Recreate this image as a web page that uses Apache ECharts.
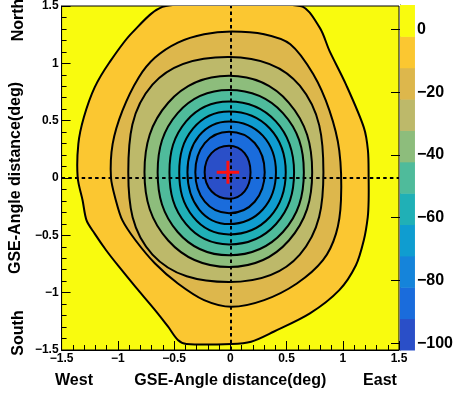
<!DOCTYPE html>
<html><head><meta charset="utf-8">
<script src="https://cdn.jsdelivr.net/npm/echarts@6/dist/echarts.min.js"></script>
<style>html,body{margin:0;padding:0;background:#fff}#c{width:456px;height:401px}</style>
</head><body><div id="c"></div>
<script>
// z range of the colour scale and contour levels
const zMin = -102.2, zMax = 7.8;
const contourLevels = [-2.2, -12.2, -22.2, -32.2, -42.2, -52.2, -62.2, -72.2, -82.2, -92.2];
// colours from lowest band to highest band
const bandColors = ['#2a4fc8','#1a6cdc','#1584da','#0f9dd0','#20b0b6','#4fbb9b','#8dbd7c','#bdb96a','#ddb74c','#fbc731','#f9fb0e'];
const colorbarLabels = [0, -20, -40, -60, -80, -100];
// contour outlines (deg, deg)
const contour1 = [[-0.573,1.5],[-0.872,1.268],[-1.075,1.007],[-1.206,0.790],[-1.302,0.529],[-1.351,0.297],[-1.357,0.004],[-1.313,-0.196],[-1.278,-0.370],[-1.206,-0.485],[-1.104,-0.630],[-0.988,-0.776],[-0.843,-0.950],[-0.669,-1.152],[-0.553,-1.297],[-0.466,-1.413],[-0.390,-1.448],[0.011,-1.448],[0.185,-1.428],[0.385,-1.341],[0.708,-1.181],[0.969,-0.978],[1.117,-0.761],[1.187,-0.543],[1.222,-0.343],[1.230,-0.196],[1.230,0.004],[1.224,0.239],[1.187,0.442],[1.027,0.819],[0.882,1.109],[0.795,1.311],[0.621,1.5]];
const contour2 = [[0.011,1.277],[-0.233,1.254],[-0.466,1.181],[-0.669,1.050],[-0.814,0.877],[-0.959,0.587],[-1.046,0.297],[-1.061,0.004],[-1.017,-0.196],[-0.959,-0.370],[-0.843,-0.543],[-0.669,-0.746],[-0.466,-0.920],[-0.233,-1.065],[0.011,-1.123],[0.301,-1.065],[0.592,-0.920],[0.824,-0.717],[0.940,-0.485],[0.984,-0.196],[0.969,0.239],[0.882,0.587],[0.737,0.906],[0.534,1.167],[0.301,1.254]];
const contour3 = [[-0.011,1.056],[0.618,0.805],[0.828,0.05],[0.618,-0.668],[-0.011,-0.907],[-0.692,-0.668],[-0.907,0.05],[-0.692,0.815]];
const contour4 = [[-0.011,0.891],[0.521,0.656],[0.728,0.05],[0.521,-0.545],[-0.011,-0.776],[-0.552,-0.545],[-0.763,0.05],[-0.552,0.656]];
const contour5 = [[-0.011,0.767],[0.468,0.566],[0.654,0.05],[0.468,-0.471],[-0.011,-0.674],[-0.468,-0.471],[-0.646,0.05],[-0.468,0.566]];
const contour6 = [[-0.011,0.667],[0.405,0.494],[0.567,0.05],[0.405,-0.403],[-0.011,-0.579],[-0.393,-0.403],[-0.541,0.05],[-0.393,0.494]];
const contour7 = [[-0.011,0.580],[0.352,0.432],[0.493,0.05],[0.352,-0.340],[-0.011,-0.492],[-0.330,-0.340],[-0.454,0.05],[-0.330,0.432]];
const contour8 = [[-0.011,0.493],[0.289,0.369],[0.406,0.05],[0.289,-0.275],[-0.011,-0.402],[-0.277,-0.275],[-0.381,0.05],[-0.277,0.369]];
const contour9 = [[-0.011,0.404],[0.217,0.305],[0.306,0.05],[0.217,-0.207],[-0.011,-0.307],[-0.227,-0.207],[-0.311,0.05],[-0.227,0.305]];
const contour10 = [[-0.011,0.282],[0.127,0.217],[0.180,0.05],[0.127,-0.116],[-0.011,-0.181],[-0.167,-0.116],[-0.228,0.05],[-0.167,0.217]];
const contours = [contour1, contour2, contour3, contour4, contour5, contour6, contour7, contour8, contour9, contour10];
// source position (red cross)
const sourcePos = [[-0.021, 0.05]];
const crossHalf = 0.1;

const FONT = '"Liberation Sans", Arial, sans-serif';
const minusFmt = v => String(v).replace('-', '\u2212');
const bandOf = lv => Math.round((lv - zMin) / 10) - 1;
const bandEdges = [zMin].concat(contourLevels.slice().reverse(), [zMax]);
const bands = bandEdges.slice(0, -1).map((lo, k) => [0, lo, bandEdges[k + 1], k]);

const chart = echarts.init(document.getElementById('c'), null, {renderer: 'canvas'});
const axisLabelStyle = {color: '#000', fontFamily: FONT, fontWeight: 'bold', fontSize: 12, formatter: minusFmt};
const nameStyle = {color: '#000', fontFamily: FONT, fontWeight: 'bold', fontSize: 16};
chart.setOption({
  animation: false,
  grid: [
    {left: 55, top: 5, width: 344, height: 345, show: true, backgroundColor: bandColors[10], borderColor: '#000', borderWidth: 1},
    {left: 400, top: 5, width: 21, height: 345}
  ],
  xAxis: [
    {gridIndex: 0, type: 'value', min: -1.5, max: 1.5, interval: 0.5,
     axisLine: {show: true, onZero: false, lineStyle: {color: '#000', width: 1}},
     axisTick: {show: true, inside: true, length: 9, lineStyle: {color: '#000'}},
     minorTick: {show: true, splitNumber: 5, length: 5, lineStyle: {color: '#000'}},
     splitLine: {show: false},
     axisLabel: Object.assign({margin: 3}, axisLabelStyle),
     name: 'GSE-Angle distance(deg)', nameLocation: 'middle', nameGap: 23, nameTextStyle: nameStyle},
    {gridIndex: 1, type: 'value', min: 0, max: 1, show: false}
  ],
  yAxis: [
    {gridIndex: 0, type: 'value', min: -1.5, max: 1.5, interval: 0.5,
     axisLine: {show: true, onZero: false, lineStyle: {color: '#000', width: 1}},
     axisTick: {show: true, inside: true, length: 9, lineStyle: {color: '#000'}},
     minorTick: {show: true, splitNumber: 5, length: 5, lineStyle: {color: '#000'}},
     splitLine: {show: false},
     axisLabel: Object.assign({margin: 3}, axisLabelStyle),
     name: 'GSE-Angle distance(deg)', nameLocation: 'middle', nameGap: 28, nameTextStyle: nameStyle},
    {gridIndex: 1, type: 'value', min: zMin, max: zMax, position: 'right',
     axisLine: {show: true, lineStyle: {color: '#333', width: 1}},
     axisTick: {show: true, inside: true, length: 9, customValues: colorbarLabels, lineStyle: {color: '#000'}},
     splitLine: {show: false},
     axisLabel: {customValues: colorbarLabels, margin: 2, color: '#000', fontFamily: FONT, fontWeight: 'bold', fontSize: 16, formatter: minusFmt}}
  ],
  series: [
    {type: 'custom', xAxisIndex: 0, yAxisIndex: 0, clip: true, silent: true,
     data: contours.map((c, i) => [c[0][0], c[0][1], i]),
     renderItem: function (params, api) {
       const i = params.dataIndex;
       const pts = contours[i].map(p => api.coord(p));
       return {type: 'polygon', shape: {points: pts, smooth: i < 2 ? 0.3 : 0.4},
               style: {fill: bandColors[bandOf(contourLevels[i])], stroke: '#000', lineWidth: 2}};
     },
     markLine: {symbol: 'none', silent: true, label: {show: false},
                lineStyle: {color: '#000', width: 2, type: [3.5, 3.2]},
                data: [{xAxis: 0}, {yAxis: 0}]}
    },
    {type: 'custom', xAxisIndex: 0, yAxisIndex: 0, clip: true, silent: true, z: 5,
     data: sourcePos,
     renderItem: function (params, api) {
       const x = api.value(0), y = api.value(1);
       const a = api.coord([x - crossHalf, y]), b = api.coord([x + crossHalf, y]);
       const c = api.coord([x, y - crossHalf]), d = api.coord([x, y + crossHalf]);
       return {type: 'group', children: [
         {type: 'line', shape: {x1: a[0], y1: a[1], x2: b[0], y2: b[1]}, style: {stroke: '#ff1010', lineWidth: 3}},
         {type: 'line', shape: {x1: c[0], y1: c[1], x2: d[0], y2: d[1]}, style: {stroke: '#ff1010', lineWidth: 3}}
       ]};
     }
    },
    {type: 'custom', xAxisIndex: 1, yAxisIndex: 1, silent: true,
     data: bands,
     renderItem: function (params, api) {
       const p0 = api.coord([0, api.value(2)]);
       const p1 = api.coord([1, api.value(1)]);
       return {type: 'rect', shape: {x: p0[0], y: p0[1], width: p1[0] - p0[0], height: p1[1] - p0[1] + 0.5},
               style: {fill: bandColors[api.value(3)]}};
     }
    }
  ],
  graphic: [
    {type: 'text', x: 19, y: 20, rotation: Math.PI / 2, style: {text: 'North', font: 'bold 16px ' + FONT, fill: '#000', align: 'center', verticalAlign: 'middle'}},
    {type: 'text', x: 19, y: 333, rotation: Math.PI / 2, style: {text: 'South', font: 'bold 16px ' + FONT, fill: '#000', align: 'center', verticalAlign: 'middle'}},
    {type: 'text', x: 74, y: 381, style: {text: 'West', font: 'bold 16px ' + FONT, fill: '#000', align: 'center', verticalAlign: 'middle'}},
    {type: 'text', x: 380, y: 381, style: {text: 'East', font: 'bold 16px ' + FONT, fill: '#000', align: 'center', verticalAlign: 'middle'}}
  ]
});
</script></body></html>
